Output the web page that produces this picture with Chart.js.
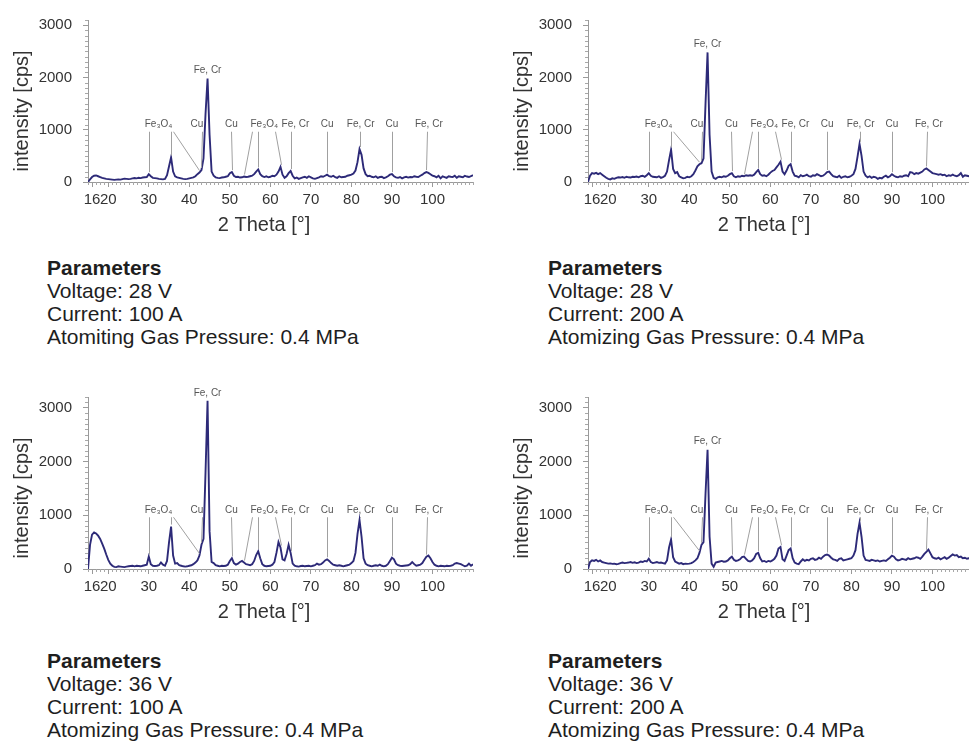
<!DOCTYPE html>
<html>
<head>
<meta charset="utf-8">
<script src="https://cdn.jsdelivr.net/npm/chart.js@4.4.1/dist/chart.umd.min.js"></script>
<style>
  html, body { margin: 0; padding: 0; background: #fff; }
  body { width: 969px; height: 743px; position: relative; overflow: hidden; font-family: "Liberation Sans", Arial, Helvetica, sans-serif; }
  .panel { position: absolute; }
  .params { position: absolute; font-size: 21px; line-height: 23px; color: #1e1e1e; white-space: nowrap; }
</style>
</head>
<body>
<div class="panel" style="left:0;top:0"><canvas id="chart1" width="485" height="240"></canvas></div>
<div class="panel" style="left:500px;top:0"><canvas id="chart2" width="485" height="240"></canvas></div>
<div class="panel" style="left:0;top:377px"><canvas id="chart3" width="485" height="250"></canvas></div>
<div class="panel" style="left:500px;top:377px"><canvas id="chart4" width="485" height="250"></canvas></div>

<div class="params" style="left:47px;top:256px"><b>Parameters</b><br>Voltage: 28 V<br>Current: 100 A<br>Atomiting Gas Pressure: 0.4 MPa</div>
<div class="params" style="left:548px;top:256px"><b>Parameters</b><br>Voltage: 28 V<br>Current: 200 A<br>Atomizing Gas Pressure: 0.4 MPa</div>
<div class="params" style="left:47px;top:649px"><b>Parameters</b><br>Voltage: 36 V<br>Current: 100 A<br>Atomizing Gas Pressure: 0.4 MPa</div>
<div class="params" style="left:548px;top:649px"><b>Parameters</b><br>Voltage: 36 V<br>Current: 200 A<br>Atomizing Gas Pressure: 0.4 MPa</div>

<script>
const FONT = '"Liberation Sans", Arial, Helvetica, sans-serif';

// 2 theta grid [°]
const twoTheta = [
  15, 15.5, 16, 16.5, 17, 17.5, 18, 18.5, 19, 19.5, 20, 20.5, 21, 21.5, 22, 22.5, 23, 23.5, 24, 24.5,
  25, 25.5, 26, 26.5, 27, 27.5, 28, 28.5, 29, 29.5, 30, 30.5, 31, 31.5, 32, 32.5, 33, 33.5, 34, 34.5,
  35, 35.5, 36, 36.5, 37, 37.5, 38, 38.5, 39, 39.5, 40, 40.5, 41, 41.5, 42, 42.5, 43, 43.5, 44, 44.5,
  45, 45.5, 46, 46.5, 47, 47.5, 48, 48.5, 49, 49.5, 50, 50.5, 51, 51.5, 52, 52.5, 53, 53.5, 54, 54.5,
  55, 55.5, 56, 56.5, 57, 57.5, 58, 58.5, 59, 59.5, 60, 60.5, 61, 61.5, 62, 62.5, 63, 63.5, 64, 64.5,
  65, 65.5, 66, 66.5, 67, 67.5, 68, 68.5, 69, 69.5, 70, 70.5, 71, 71.5, 72, 72.5, 73, 73.5, 74, 74.5,
  75, 75.5, 76, 76.5, 77, 77.5, 78, 78.5, 79, 79.5, 80, 80.5, 81, 81.5, 82, 82.5, 83, 83.5, 84, 84.5,
  85, 85.5, 86, 86.5, 87, 87.5, 88, 88.5, 89, 89.5, 90, 90.5, 91, 91.5, 92, 92.5, 93, 93.5, 94, 94.5,
  95, 95.5, 96, 96.5, 97, 97.5, 98, 98.5, 99, 99.5, 100, 100.5, 101, 101.5, 102, 102.5, 103, 103.5, 104, 104.5,
  105, 105.5, 106, 106.5, 107, 107.5, 108, 108.5, 109, 109.5, 110
];

// intensity [cps], 28 V / 100 A
const int28V100A = [
  0, 50, 95, 120, 125, 110, 95, 80, 70, 60, 55, 50, 45, 40, 45, 50, 45, 55, 65, 60,
  55, 60, 70, 75, 70, 80, 75, 85, 90, 95, 150, 110, 80, 75, 70, 60, 55, 50, 60, 130,
  300, 470, 200, 110, 90, 80, 70, 60, 55, 60, 70, 80, 90, 110, 150, 180, 230, 450, 1300, 1980,
  900, 200, 120, 90, 80, 75, 85, 90, 100, 110, 170, 190, 120, 95, 100, 85, 90, 105, 95, 100,
  110, 120, 150, 200, 240, 150, 110, 95, 110, 90, 100, 120, 110, 140, 200, 290, 140, 80, 110, 170,
  210, 120, 70, 85, 60, 75, 90, 100, 80, 110, 90, 70, 60, 75, 90, 110, 100, 120, 140, 110,
  100, 120, 95, 80, 110, 90, 95, 100, 120, 130, 140, 160, 220, 380, 630, 520, 260, 150, 110, 120,
  100, 90, 110, 80, 95, 100, 75, 90, 110, 140, 150, 110, 90, 80, 95, 70, 90, 100, 85, 95,
  90, 110, 100, 95, 120, 140, 170, 190, 175, 150, 120, 110, 90, 120, 70, 110, 95, 80, 110, 100,
  95, 120, 80, 110, 100, 90, 120, 105, 95, 110, 130
];

// intensity [cps], 28 V / 200 A
const int28V200A = [
  0, 120, 170, 160, 175, 150, 170, 140, 110, 80, 60, 50, 70, 60, 80, 90, 85, 95, 80, 100,
  90, 85, 100, 95, 105, 90, 110, 120, 100, 130, 170, 120, 100, 95, 90, 110, 80, 95, 120, 200,
  420, 620, 250, 170, 190, 110, 90, 70, 80, 100, 90, 110, 150, 220, 300, 340, 360, 450, 1500, 2480,
  900, 200, 80, 60, 90, 100, 90, 110, 100, 120, 150, 170, 110, 90, 110, 100, 120, 110, 130, 120,
  130, 120, 140, 190, 230, 150, 120, 130, 110, 140, 180, 210, 230, 280, 330, 390, 200, 150, 220, 310,
  340, 200, 120, 110, 90, 130, 110, 120, 140, 110, 100, 130, 120, 150, 130, 110, 120, 150, 190, 200,
  150, 110, 100, 90, 120, 80, 100, 110, 90, 100, 120, 150, 250, 480, 730, 500, 200, 120, 90, 110,
  80, 100, 90, 60, 80, 70, 100, 120, 90, 110, 150, 120, 100, 90, 110, 100, 120, 130, 110, 190,
  180, 150, 170, 160, 180, 200, 240, 260, 230, 200, 170, 160, 150, 140, 150, 130, 140, 110, 130, 120,
  140, 120, 110, 130, 170, 100, 130, 120, 110, 130, 100
];

// intensity [cps], 36 V / 100 A
const int36V100A = [
  0, 450, 640, 680, 660, 620, 560, 470, 380, 270, 170, 100, 60, 40, 35, 50, 45, 40, 35, 45,
  50, 55, 60, 50, 60, 55, 50, 60, 70, 80, 230, 90, 60, 55, 60, 70, 120, 80, 60, 150,
  500, 790, 250, 100, 110, 70, 60, 50, 45, 50, 60, 70, 90, 120, 160, 250, 450, 560, 1800, 3130,
  700, 130, 110, 70, 60, 50, 60, 55, 60, 80, 150, 200, 110, 80, 100, 130, 150, 120, 90, 80,
  70, 90, 150, 260, 330, 200, 90, 60, 50, 55, 60, 80, 130, 300, 500, 400, 180, 160, 280, 450,
  300, 100, 60, 50, 45, 55, 60, 50, 55, 60, 50, 60, 70, 100, 80, 90, 120, 160, 180, 150,
  110, 80, 70, 60, 70, 60, 50, 60, 70, 80, 110, 150, 300, 650, 910, 600, 200, 100, 70, 60,
  50, 60, 70, 60, 80, 60, 50, 60, 90, 150, 210, 180, 100, 70, 60, 55, 60, 65, 70, 90,
  130, 90, 60, 70, 80, 110, 170, 230, 250, 200, 130, 80, 60, 50, 60, 55, 50, 60, 55, 60,
  70, 100, 110, 100, 90, 70, 50, 60, 100, 60, 90
];

// intensity [cps], 36 V / 200 A
const int36V200A = [
  0, 130, 160, 150, 170, 140, 160, 130, 120, 110, 100, 105, 95, 100, 90, 95, 110, 120, 110, 115,
  120, 130, 115, 125, 110, 120, 140, 130, 150, 140, 190, 130, 110, 120, 130, 115, 120, 110, 100, 160,
  400, 550, 220, 140, 120, 100, 110, 90, 100, 95, 100, 110, 130, 160, 200, 300, 450, 500, 1400, 2220,
  600, 100, 40, 120, 130, 140, 150, 135, 140, 160, 200, 230, 170, 150, 160, 180, 220, 230, 190, 150,
  140, 160, 200, 280, 300, 200, 140, 150, 130, 150, 140, 160, 190, 250, 380, 410, 180, 150, 250, 350,
  380, 200, 120, 100, 90, 140, 180, 150, 170, 160, 190, 200, 170, 180, 210, 190, 230, 260, 270, 250,
  210, 180, 170, 150, 190, 200, 160, 170, 180, 190, 200, 250, 350, 650, 860, 600, 250, 170, 160, 150,
  170, 160, 150, 160, 140, 150, 160, 150, 180, 210, 250, 230, 180, 160, 170, 190, 180, 170, 200, 180,
  190, 200, 220, 210, 190, 230, 280, 320, 360, 290, 220, 200, 190, 210, 180, 200, 220, 190, 210, 240,
  270, 250, 260, 220, 230, 200, 210, 190, 200, 210, 190
];

const xTicks = [16, 20, 30, 40, 50, 60, 70, 80, 90, 100];
const yTicks = [0, 1000, 2000, 3000];

// phase markers: name, where the name sits, and [top, bottom] of each marker line (2 theta)
const peakNames = ['Fe₃O₄', 'Cu', 'Cu', 'Fe₃O₄', 'Fe, Cr', 'Cu', 'Fe, Cr', 'Cu', 'Fe, Cr'];
const peakNameAt = [32.4, 41.9, 50.4, 58.5, 66.2, 74.0, 82.3, 90.0, 99.1];
const peakLines = [
  [[30.1, 30], [35.4, 35.5], [35.9, 42.5]],
  [[43.2, 43]],
  [[50.4, 50.5]],
  [[55.4, 53.5], [56.9, 57], [61.1, 62.5]],
  [[65.0, 65]],
  [[74.0, 74]],
  [[82.2, 82]],
  [[90.0, 90]],
  [[98.7, 98.5]]
];
const mainPeakName = 'Fe, Cr';
const markerLevel = 1000;

function nearestValue(values, x) {
  let best = 0;
  twoTheta.forEach((t, i) => {
    if (Math.abs(t - x) < Math.abs(twoTheta[best] - x)) best = i;
  });
  return values[best];
}

const peakMarks = {
  id: 'peakMarks',
  afterDatasetsDraw(chart) {
    const { ctx, scales: { x, y } } = chart;
    const values = chart.data.datasets[0].data.map((p) => p.y);
    const topY = y.getPixelForValue(markerLevel);
    ctx.save();
    ctx.strokeStyle = '#a0a0a0';
    ctx.lineWidth = 1;
    ctx.fillStyle = '#555';
    ctx.font = '10px ' + FONT;
    ctx.textAlign = 'center';
    ctx.textBaseline = 'bottom';
    peakNames.forEach((name, i) => {
      ctx.fillText(name, x.getPixelForValue(peakNameAt[i]), topY);
      peakLines[i].forEach(([xt, xb]) => {
        ctx.beginPath();
        ctx.moveTo(Math.round(x.getPixelForValue(xt)) + 0.5, topY + 2);
        ctx.lineTo(Math.round(x.getPixelForValue(xb)) + 0.5, y.getPixelForValue(nearestValue(values, xb)) - 2);
        ctx.stroke();
      });
    });
    const iMax = values.indexOf(Math.max(...values));
    ctx.fillText(mainPeakName, x.getPixelForValue(twoTheta[iMax]), y.getPixelForValue(values[iMax]) - 3);
    ctx.restore();
  }
};

const axisExtras = {
  id: 'axisExtras',
  afterDraw(chart) {
    const { ctx, chartArea, scales: { x, y } } = chart;
    ctx.save();
    ctx.strokeStyle = '#a8a8a8';
    ctx.lineWidth = 1;
    ctx.beginPath();
    for (let v = Math.ceil(x.min); v <= x.max; v += 1) {
      if (xTicks.includes(v)) continue;
      const px = Math.round(x.getPixelForValue(v)) + 0.5;
      ctx.moveTo(px, chartArea.bottom);
      ctx.lineTo(px, chartArea.bottom + 3);
    }
    for (let v = 100; v <= y.max; v += 100) {
      if (yTicks.includes(v)) continue;
      const py = Math.round(y.getPixelForValue(v)) + 0.5;
      ctx.moveTo(chartArea.left - 3, py);
      ctx.lineTo(chartArea.left, py);
    }
    ctx.stroke();

    // axis titles
    ctx.fillStyle = '#333';
    ctx.font = '20px ' + FONT;
    ctx.textAlign = 'center';
    ctx.textBaseline = 'middle';
    ctx.fillText('2 Theta [°]', chartArea.left + 176, chartArea.bottom + 43);
    ctx.translate(chartArea.left - 66, chartArea.bottom - 71);
    ctx.rotate(-Math.PI / 2);
    ctx.fillText('intensity [cps]', 0, 0);
    ctx.restore();
  }
};

const panels = [
  { id: 'chart1', values: int28V100A, max: 3100, padTop: 12 },
  { id: 'chart2', values: int28V200A, max: 3100, padTop: 12 },
  { id: 'chart3', values: int36V100A, max: 3200, padTop: 18 },
  { id: 'chart4', values: int36V200A, max: 3200, padTop: 18 }
];

panels.forEach((panel) => {
  new Chart(document.getElementById(panel.id), {
    type: 'line',
    data: {
      datasets: [
        {
          data: twoTheta.map((t, i) => ({ x: t, y: panel.values[i] })),
          borderColor: '#2d2a78',
          borderWidth: 1.9,
          pointRadius: 0,
          tension: 0,
          fill: false
        }
      ]
    },
    options: {
      responsive: false,
      animation: false,
      devicePixelRatio: 1,
      layout: { padding: { top: panel.padTop, right: 12, left: 0, bottom: 0 } },
      plugins: {
        legend: { display: false },
        tooltip: { enabled: false }
      },
      scales: {
        x: {
          type: 'linear',
          min: 15,
          max: 110,
          afterBuildTicks(scale) {
            scale.ticks = xTicks.map((v) => ({ value: v }));
          },
          afterFit(scale) {
            scale.height = 58;
          },
          border: { color: '#9a9a9a' },
          grid: { drawOnChartArea: false, tickLength: 5, color: '#9a9a9a' },
          ticks: {
            autoSkip: false,
            maxRotation: 0,
            padding: 4,
            color: '#333',
            font: { family: FONT, size: 15 },
            callback: (v) => String(v)
          }
        },
        y: {
          min: 0,
          max: panel.max,
          afterBuildTicks(scale) {
            scale.ticks = yTicks.map((v) => ({ value: v }));
          },
          afterFit(scale) {
            scale.width = 88;
          },
          border: { color: '#9a9a9a' },
          grid: { drawOnChartArea: false, tickLength: 5, color: '#9a9a9a' },
          ticks: {
            padding: 11,
            color: '#333',
            font: { family: FONT, size: 15 },
            callback: (v) => String(v)
          }
        }
      }
    },
    plugins: [peakMarks, axisExtras]
  });
});
</script>
</body>
</html>
